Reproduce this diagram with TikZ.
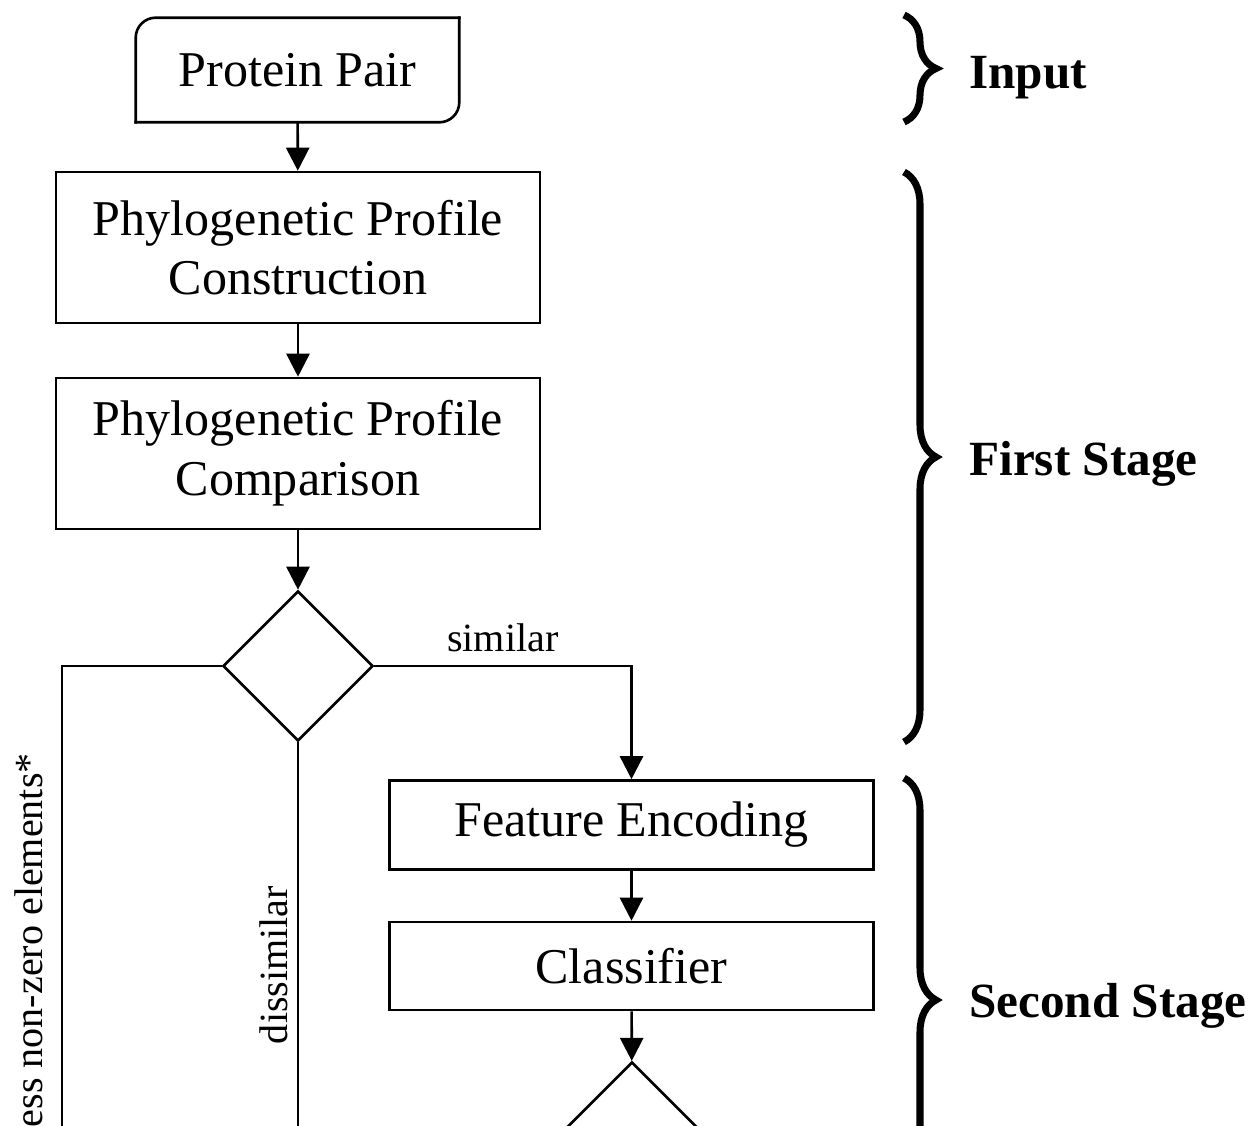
\documentclass[tikz,border=0pt]{standalone}
\usepackage{fontspec}
\setmainfont{Liberation Serif}
\usetikzlibrary{shapes.geometric,arrows.meta,decorations.pathreplacing}
\begin{document}
\begin{tikzpicture}[x=0.02cm, y=-0.02cm, line width=1.5pt, >={Triangle[width=0.46cm,length=0.46cm]},
	font=\fontsize{28.5}{34}\selectfont,
	box/.style={draw, rectangle, minimum width=9.68cm, minimum height=3.02cm, align=center, inner sep=0pt},
	smallbox/.style={box, minimum height=1.78cm},
	decision/.style={draw, diamond, minimum width=3cm, minimum height=3cm, inner sep=0pt},
	lbl/.style={font=\fontsize{22.8}{26}\selectfont},
	stage/.style={font=\fontsize{28}{32}\selectfont\bfseries, anchor=base west, inner sep=0pt},
	brc/.style={decorate, decoration={brace, amplitude=0.64cm}, line width=4pt}]
	\useasboundingbox (0,0) rectangle (1252,1126);
	% input box, two rounded corners
	\node[minimum width=6.42cm, minimum height=2.04cm, inner sep=0pt] (pair) at (297.5,70) {Protein Pair};
	\draw[rounded corners=0.4cm, line cap=rect] (pair.north east) -- (pair.north west) -- (pair.south west);
	\draw[rounded corners=0.4cm, line cap=rect] (pair.south west) -- (pair.south east) -- (pair.north east);
	% first stage
	\node[box] (pcon) at (298,247.5) {Phylogenetic Profile\\Construction};
	\node[box] (pcmp) at (298,453.5) {Phylogenetic Profile\\Comparison};
	\node[decision] (dec1) at (298,666) {};
	% second stage
	\node[smallbox] (feat) at (631.5,825) {Feature Encoding};
	\node[smallbox, minimum height=1.76cm] (clf) at (631.5,966) {Classifier};
	\node[decision] (dec2) at (632,1137) {};
	\coordinate (lend) at (62,1140);
	\coordinate (dend) at (298,1140);
	\draw[->] (pair) -- (pcon);
	\draw[->] (pcon) -- (pcmp);
	\draw[->] (pcmp) -- (dec1);
	\draw[->] (dec1.east) -| node[lbl, pos=0.25, above=4pt]{similar} (feat.north);
	\draw (dec1.west) -| (lend);
	\draw (dend) -- node[lbl, rotate=90, anchor=south, inner sep=5pt, pos=0.44]{dissimilar} (dec1.south);
	\node[lbl, rotate=90, anchor=east, inner sep=0pt] (note) at (29,752) {less non-zero elements*};
	\draw[->] (feat) -- (clf);
	\draw[->] (clf) -- (dec2);
	% stages
	\draw[brc] (904,15) -- (904,122);
	\draw[brc] (904,172) -- (904,742);
	\draw[brc] (904,778) -- (904,1222);
	\node[stage] (inp) at (968,88) {Input};
	\node[stage] (st1) at (968,475) {First Stage};
	\node[stage] (st2) at (968,1017) {Second Stage};
\end{tikzpicture}
\end{document}
